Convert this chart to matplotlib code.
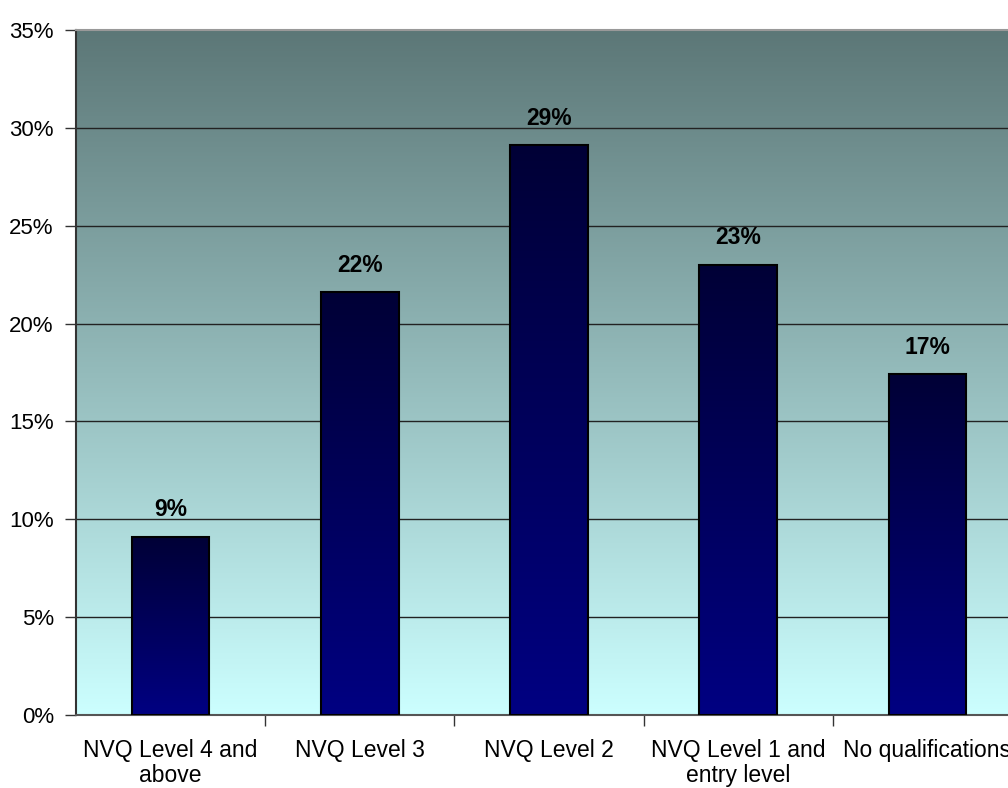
import numpy as np
import matplotlib.pyplot as plt
from matplotlib.colors import LinearSegmentedColormap
from matplotlib.ticker import FuncFormatter, MultipleLocator

plt.rcParams['font.family'] = ['Liberation Sans', 'DejaVu Sans']

categories = ["NVQ Level 4 and\nabove", "NVQ Level 3", "NVQ Level 2",
              "NVQ Level 1 and\nentry level", "No qualifications"]
values = [9.1, 21.6, 29.1, 23.0, 17.4]
labels = ["9%", "22%", "29%", "23%", "17%"]

fig = plt.figure(figsize=(10.08, 7.88), dpi=100)
# plot area runs a little past the right edge of the figure
ax = fig.add_axes([76 / 1008, 73 / 788, 946 / 1008, 685 / 788])

x = np.arange(len(categories))
ax.set_xlim(-0.5, len(categories) - 0.5)
ax.set_ylim(0, 35)

# background gradient: dark slate at top, pale cyan at bottom
bg_cmap = LinearSegmentedColormap.from_list("bg", ["#ccffff", "#5c7777"])
grad = np.linspace(0, 1, 256).reshape(-1, 1)
ax.imshow(grad, extent=[-0.5, len(categories) - 0.5, 0, 35], origin="lower",
          aspect="auto", cmap=bg_cmap, zorder=0)

for y in range(5, 35, 5):
    ax.axhline(y, color="#222222", lw=1.0, zorder=1)

bars = ax.bar(x, values, width=0.41, facecolor="none", edgecolor="black",
              lw=1.5, zorder=3)

bar_cmap = LinearSegmentedColormap.from_list("bar", ["#000082", "#000036"])
for b in bars:
    x0, w, h = b.get_x(), b.get_width(), b.get_height()
    im = ax.imshow(grad, extent=[x0, x0 + w, 0, h], origin="lower",
                   aspect="auto", cmap=bar_cmap, zorder=2)
    im.set_clip_path(b)

for xi, v, lab in zip(x, values, labels):
    ax.text(xi, v + 0.8, lab, ha="center", va="bottom", fontsize=16.5,
            fontweight="bold", color="black")

ax.yaxis.set_major_locator(MultipleLocator(5))
ax.yaxis.set_major_formatter(FuncFormatter(lambda v, p: f"{v:.0f}%"))
ax.tick_params(axis="y", labelsize=16, length=8, width=1.0, color="#333333", pad=8)

ax.set_xticks(x)
ax.set_xticklabels(categories, fontsize=16.5, linespacing=1.15)
ax.set_xticks(np.arange(0.5, len(categories) - 0.5, 1.0), minor=True)
ax.tick_params(axis="x", which="major", length=0, pad=17)
ax.tick_params(axis="x", which="minor", length=8, width=1.0, color="#333333")

ax.spines["top"].set_color("#999999")
ax.spines["top"].set_linewidth(1.5)
ax.spines["right"].set_visible(False)
ax.spines["left"].set_color("#333333")
ax.spines["left"].set_linewidth(1.5)
ax.spines["bottom"].set_color("#555555")
ax.spines["bottom"].set_linewidth(1.5)

fig.savefig("out.png", dpi=100)
